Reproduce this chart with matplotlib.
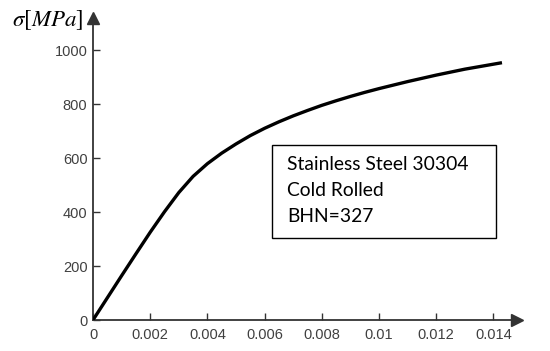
import matplotlib
matplotlib.use("Agg")
import matplotlib.pyplot as plt
from matplotlib.patches import Rectangle

strain = [0, 0.0005, 0.001, 0.0015, 0.002, 0.0025, 0.003, 0.0035, 0.004, 0.0045,
          0.005, 0.0055, 0.006, 0.0065, 0.007, 0.0075, 0.008, 0.0085, 0.009,
          0.0095, 0.010, 0.011, 0.012, 0.013, 0.0143]
stress = [0, 82, 164, 245, 325, 401, 472, 532, 579, 618,
          652, 683, 710, 734, 756, 776, 795, 812, 828,
          843, 857, 883, 907, 929, 953]

xticks = [0, 0.002, 0.004, 0.006, 0.008, 0.010, 0.012, 0.014]
xticklabels = ["0", "0.002", "0.004", "0.006", "0.008", "0.01", "0.012", "0.014"]
yticks = [0, 200, 400, 600, 800, 1000]
yticklabels = ["0", "200", "400", "600", "800", "1000"]
ylabel = r"$\sigma[MPa]$"
note_lines = ["Stainless Steel 30304", "Cold Rolled", "BHN=327"]

W, H = 550, 351
fig = plt.figure(figsize=(W / 100, H / 100), dpi=100)
fig.patch.set_facecolor("white")

x0, x1 = 93, 517
y0, y1 = 320, 18
ax = fig.add_axes([x0 / W, 1 - y0 / H, (x1 - x0) / W, (y0 - y1) / H])
ax.set_xlim(0, (x1 - x0) / 57.2 * 0.002)
ax.set_ylim(0, (y0 - y1) / 0.27)

axis_col = "#333333"
for s in ["top", "right"]:
    ax.spines[s].set_visible(False)
for s in ["left", "bottom"]:
    ax.spines[s].set_color(axis_col)
    ax.spines[s].set_linewidth(1.3)

ax.plot(strain, stress, color="black", lw=2.4, solid_capstyle="butt",
        solid_joinstyle="round", zorder=3)

# arrow heads
ax.plot(1, 0, marker=">", ms=9, color=axis_col, transform=ax.transAxes, clip_on=False)
ax.plot(0, 1, marker="^", ms=9, color=axis_col, transform=ax.transAxes, clip_on=False)

ax.set_xticks(xticks)
ax.set_xticklabels(xticklabels)
ax.set_yticks(yticks)
ax.set_yticklabels(yticklabels)
ax.tick_params(direction="in", length=5, width=1, color=axis_col,
               labelsize=10.5, labelcolor="#404040")
ax.tick_params(axis="x", pad=6)
ax.tick_params(axis="y", pad=4)
for lab in ax.get_xticklabels() + ax.get_yticklabels():
    lab.set_fontfamily("Liberation Sans")

fig.text(12 / W, 1 - 20 / H, ylabel, fontsize=16.5, ha="left", va="center",
         math_fontfamily="stix")

# note box
bx0, bx1, by0, by1 = 272, 496, 145, 238
fig.add_artist(Rectangle((bx0 / W, 1 - by1 / H), (bx1 - bx0) / W, (by1 - by0) / H,
                         transform=fig.transFigure, fill=True, facecolor="white",
                         edgecolor="black", lw=1.0, zorder=5))
for i, line in enumerate(note_lines):
    fig.text(287 / W, 1 - (164 + 26 * i) / H, line, fontsize=13.9, ha="left",
             va="center", family="Lato", color="black", zorder=6)

fig.savefig("out.png", dpi=100, facecolor="white")
